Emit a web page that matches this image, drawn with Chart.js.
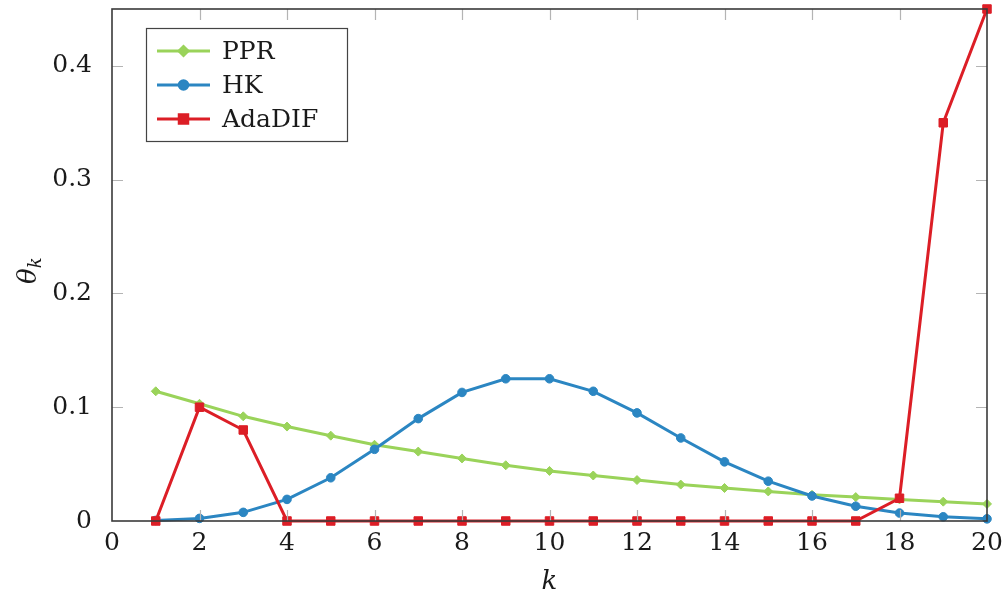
<!DOCTYPE html>
<html>
<head>
    <title>theta_k por k</title>
    <script src="https://cdn.jsdelivr.net/npm/chart.js"></script>
    <style>
        body { margin: 0; background: #fff; }
        #chart { display: block; }
    </style>
</head>
<body>
    <canvas id="chart" width="1005" height="593"></canvas>

    <script>
        // passos k = 1..20
        var passos = [1, 2, 3, 4, 5, 6, 7, 8, 9, 10, 11, 12, 13, 14, 15, 16, 17, 18, 19, 20];

        // coeficientes theta_k de cada método
        var ppr = [0.114, 0.103, 0.092, 0.083, 0.075, 0.067, 0.061, 0.055, 0.049, 0.044,
                   0.040, 0.036, 0.032, 0.029, 0.026, 0.023, 0.021, 0.019, 0.017, 0.015];
        var hk = [0.0005, 0.0023, 0.0076, 0.019, 0.038, 0.063, 0.090, 0.113, 0.125, 0.125,
                  0.114, 0.095, 0.073, 0.052, 0.035, 0.022, 0.013, 0.007, 0.0037, 0.0019];
        var adadif = [0, 0.100, 0.080, 0, 0, 0, 0, 0, 0, 0,
                      0, 0, 0, 0, 0, 0, 0, 0.020, 0.350, 0.450];

        var ticksX = [0, 2, 4, 6, 8, 10, 12, 14, 16, 18, 20];
        var ticksY = [0, 0.1, 0.2, 0.3, 0.4];

        var fonte = 'DejaVu Serif';
        var corTexto = '#1a1a1a';

        function pontos(valores) {
            return passos.map(function(k, i) { return { x: k, y: valores[i] }; });
        }

        // moldura, marcas de escala para dentro, títulos dos eixos e legenda
        var moldura = {
            id: 'moldura',
            afterDatasetsDraw: function(chart) {
                var ctx = chart.ctx;
                var a = chart.chartArea;
                var sx = chart.scales.x, sy = chart.scales.y;
                var t = 11;

                ctx.save();
                ctx.strokeStyle = '#b4b4b4';
                ctx.lineWidth = 1.2;
                ctx.beginPath();
                ticksX.forEach(function(v) {
                    if (v === 0 || v === 20) return;
                    var px = Math.round(sx.getPixelForValue(v)) + 0.5;
                    ctx.moveTo(px, a.bottom); ctx.lineTo(px, a.bottom - t);
                    ctx.moveTo(px, a.top); ctx.lineTo(px, a.top + t);
                });
                ticksY.forEach(function(v) {
                    if (v === 0) return;
                    var py = Math.round(sy.getPixelForValue(v)) + 0.5;
                    ctx.moveTo(a.left, py); ctx.lineTo(a.left + t, py);
                    ctx.moveTo(a.right, py); ctx.lineTo(a.right - t, py);
                });
                ctx.stroke();

                ctx.strokeStyle = '#3a3a3a';
                ctx.lineWidth = 1.6;
                ctx.strokeRect(a.left, a.top, a.right - a.left, a.bottom - a.top);

                // títulos dos eixos
                ctx.fillStyle = corTexto;
                ctx.textAlign = 'center';
                ctx.textBaseline = 'alphabetic';
                ctx.font = 'italic 26px "' + fonte + '"';
                ctx.fillText('k', (a.left + a.right) / 2, 589);

                ctx.save();
                ctx.translate(36, 272);
                ctx.rotate(-Math.PI / 2);
                ctx.textAlign = 'left';
                ctx.font = 'italic 26px "' + fonte + '"';
                ctx.fillText('θ', -12, 0);
                var w = ctx.measureText('θ').width;
                ctx.font = 'italic 18px "' + fonte + '"';
                ctx.fillText('k', -12 + w, 5);
                ctx.restore();

                // legenda
                var lx = 146, ly = 28, lw = 201, lh = 113;
                ctx.fillStyle = '#ffffff';
                ctx.fillRect(lx, ly, lw, lh);
                ctx.strokeStyle = '#444';
                ctx.lineWidth = 1.2;
                ctx.strokeRect(lx + 0.5, ly + 0.5, lw, lh);

                chart.data.datasets.forEach(function(ds, i) {
                    var y = 51 + i * 34;
                    ctx.strokeStyle = ds.borderColor;
                    ctx.lineWidth = ds.borderWidth;
                    ctx.beginPath();
                    ctx.moveTo(157, y); ctx.lineTo(210, y);
                    ctx.stroke();
                    Chart.helpers.drawPoint(ctx, {
                        pointStyle: ds.pointStyle,
                        radius: ds.pointRadius,
                        rotation: 0,
                        borderWidth: 1
                    }, 183.5, y);
                    ctx.fillStyle = ds.borderColor;
                    ctx.fill();
                    ctx.fillStyle = corTexto;
                    ctx.textAlign = 'left';
                    ctx.textBaseline = 'middle';
                    ctx.font = '25px "' + fonte + '"';
                    ctx.fillText(ds.label, 222, y + 1);
                });
                ctx.restore();
            }
        };

        function serie(label, valores, cor, estilo, raio, ordem) {
            return {
                label: label,
                data: pontos(valores),
                borderColor: cor,
                backgroundColor: cor,
                pointBackgroundColor: cor,
                pointBorderColor: cor,
                borderWidth: 3,
                pointStyle: estilo,
                pointRadius: raio,
                pointBorderWidth: 1,
                tension: 0,
                clip: false,
                order: ordem
            };
        }

        var ctx = document.getElementById('chart').getContext('2d');
        var chart = new Chart(ctx, {
            type: 'line',
            data: {
                datasets: [
                    serie('PPR', ppr, '#9ad35a', 'rectRot', 4.5, 3),
                    serie('HK', hk, '#2b86c2', 'circle', 4.3, 2),
                    serie('AdaDIF', adadif, '#dc1e26', 'rect', 6, 1)
                ]
            },
            options: {
                responsive: false,
                animation: false,
                layout: { padding: { top: 9, right: 18, left: 0, bottom: 0 } },
                plugins: {
                    legend: { display: false },
                    tooltip: { enabled: false }
                },
                scales: {
                    x: {
                        type: 'linear',
                        min: 0,
                        max: 20,
                        grid: { display: false },
                        border: { display: false },
                        afterBuildTicks: function(axis) {
                            axis.ticks = ticksX.map(function(v) { return { value: v }; });
                        },
                        afterFit: function(axis) {
                            axis.height = 72;
                            axis.paddingLeft = 0;
                            axis.paddingRight = 0;
                        },
                        ticks: {
                            padding: -1,
                            maxRotation: 0,
                            color: corTexto,
                            font: { family: fonte, size: 25 },
                            callback: function(v) { return String(v); }
                        }
                    },
                    y: {
                        min: 0,
                        max: 0.45,
                        grid: { display: false },
                        border: { display: false },
                        afterBuildTicks: function(axis) {
                            axis.ticks = ticksY.map(function(v) { return { value: v }; });
                        },
                        afterFit: function(axis) {
                            axis.width = 112;
                            axis.paddingTop = 0;
                            axis.paddingBottom = 0;
                        },
                        ticks: {
                            padding: 12,
                            color: corTexto,
                            font: { family: fonte, size: 25 },
                            callback: function(v) { return v === 0 ? '0' : v.toFixed(1); }
                        }
                    }
                }
            },
            plugins: [moldura]
        });
    </script>
</body>
</html>
